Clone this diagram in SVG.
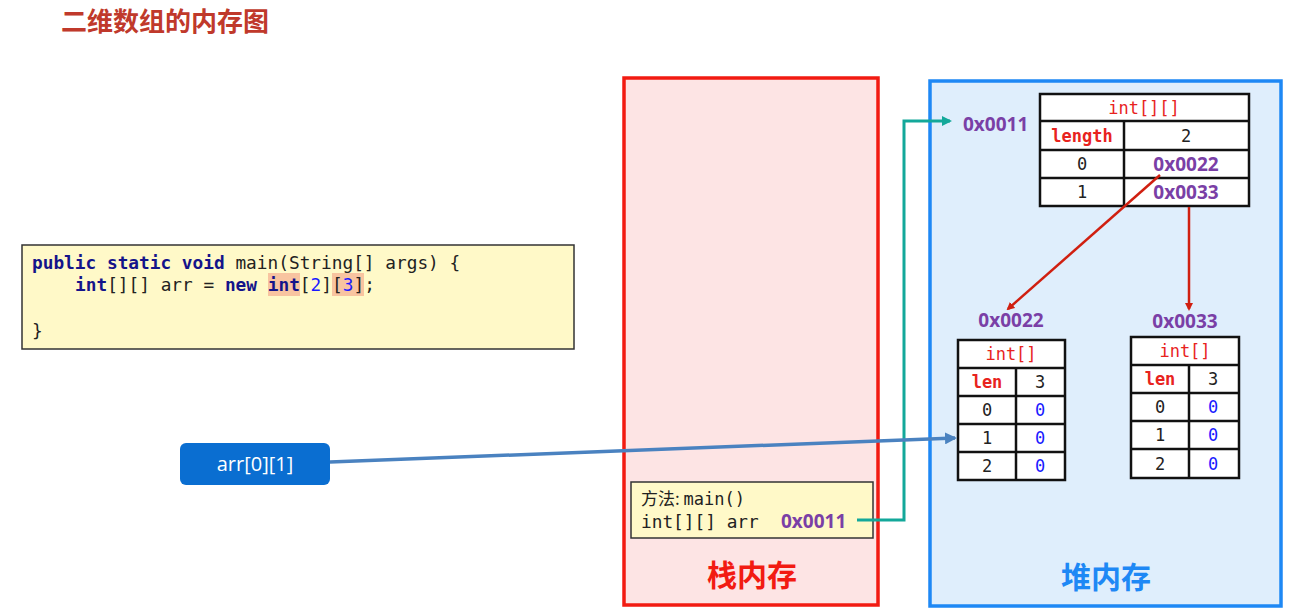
<svg xmlns="http://www.w3.org/2000/svg" width="1292" height="612" viewBox="0 0 1292 612">
<style>
.m{font-family:"DejaVu Sans Mono","Liberation Mono",monospace;font-size:17px;text-anchor:middle}
.r{fill:#e8231e}
.b{fill:#1a1aff}
.k{fill:#222}
.p{font-family:"Open Sans","Liberation Sans",sans-serif;font-weight:bold;font-size:19px;fill:#7a3fa6}
.c{fill:#fff;stroke:#111;stroke-width:2.5}
.code{font-family:"DejaVu Sans Mono","Liberation Mono",monospace;font-size:17.8px;fill:#222}
.kw{fill:#14148a;font-weight:bold}
</style>
<defs>
<marker id="ar" markerWidth="8" markerHeight="8" refX="6" refY="4" orient="auto" markerUnits="userSpaceOnUse"><path d="M0,0L8,4L0,8z" fill="#d01f10"/></marker>
<marker id="at" markerWidth="10" markerHeight="10" refX="8" refY="5" orient="auto" markerUnits="userSpaceOnUse"><path d="M0,0L10,5L0,10z" fill="#13a89a"/></marker>
<marker id="ab" markerWidth="12" markerHeight="12" refX="10" refY="6" orient="auto" markerUnits="userSpaceOnUse"><path d="M0,0L12,6L0,12z" fill="#4a82c0"/></marker>
</defs>
<rect width="1292" height="612" fill="#fff"/>
<text x="61" y="31" font-family="'Noto Sans CJK SC',sans-serif" font-size="26" font-weight="bold" fill="#c0392b">二维数组的内存图</text>

<g id="stack">
<rect x="624" y="78" width="254" height="527" fill="#fde4e4" stroke="#f21b12" stroke-width="3.5"/>
<text x="752" y="586" text-anchor="middle" font-family="'Noto Sans CJK SC',sans-serif" font-size="30" font-weight="bold" fill="#f21b12">栈内存</text>
</g>
<g id="heap">
<rect x="930" y="81" width="351" height="525" fill="#dfeefc" stroke="#1e88f5" stroke-width="3.5"/>
<text x="1106" y="588" text-anchor="middle" font-family="'Noto Sans CJK SC',sans-serif" font-size="30" font-weight="bold" fill="#1e88f5">堆内存</text>
</g>

<g id="code">
<rect x="22" y="245" width="552" height="104" fill="#fff9c8" stroke="#333" stroke-width="1.5"/>
<text x="32" y="269" class="code" xml:space="preserve"><tspan class="kw">public static void</tspan> main(String[] args) {</text>
<rect x="268" y="273" width="32" height="23" fill="#f8c4a0"/>
<rect x="332" y="273" width="32" height="23" fill="#f8c4a0"/>
<text x="75" y="291" class="code" xml:space="preserve"><tspan class="kw">int</tspan>[][] arr = <tspan class="kw">new</tspan> <tspan class="kw">int</tspan>[<tspan fill="#1a1aff">2</tspan>][<tspan fill="#1a1aff">3</tspan>];</text>
<text x="32" y="337" class="code">}</text>
</g>

<g id="method">
<rect x="631" y="482" width="242" height="56" fill="#fff9c8" stroke="#333" stroke-width="1.5"/>
<text x="641" y="505" font-family="'Noto Sans CJK SC','DejaVu Sans Mono',monospace" font-size="17" fill="#222">方法: <tspan font-family="'DejaVu Sans Mono',monospace">main()</tspan></text>
<text x="641" y="528" class="code">int[][] arr</text>
<text x="781" y="528" class="p">0x0011</text>
</g>

<g id="btn">
<rect x="180" y="443" width="150" height="42" rx="6" fill="#0a6ed1"/>
<text x="255" y="471" text-anchor="middle" font-family="'Open Sans','Liberation Sans',sans-serif" font-size="20" fill="#fff">arr[0][1]</text>
</g>

<g id="outer">
<text x="963" y="131" class="p">0x0011</text>
<rect x="1040" y="94" width="209" height="112" class="c"/>
<line x1="1040" y1="121" x2="1249" y2="121" stroke="#111" stroke-width="2.5"/>
<line x1="1040" y1="150" x2="1249" y2="150" stroke="#111" stroke-width="2.5"/>
<line x1="1040" y1="178" x2="1249" y2="178" stroke="#111" stroke-width="2.5"/>
<line x1="1124" y1="121" x2="1124" y2="206" stroke="#111" stroke-width="2.5"/>
<text x="1144" y="114" class="m r">int[][]</text>
<text x="1082" y="142" class="m r" font-weight="bold" font-size="15">length</text>
<text x="1186" y="142" class="m k">2</text>
<text x="1082" y="170" class="m k">0</text>
<text x="1186" y="171" class="p" text-anchor="middle">0x0022</text>
<text x="1082" y="198" class="m k">1</text>
<text x="1186" y="199" class="p" text-anchor="middle">0x0033</text>
</g>

<g id="arr1">
<text x="1011" y="327" class="p" text-anchor="middle">0x0022</text>
<rect x="958" y="340" width="107" height="140" class="c"/>
<line x1="958" y1="368" x2="1065" y2="368" stroke="#111" stroke-width="2.5"/>
<line x1="958" y1="396" x2="1065" y2="396" stroke="#111" stroke-width="2.5"/>
<line x1="958" y1="424" x2="1065" y2="424" stroke="#111" stroke-width="2.5"/>
<line x1="958" y1="452" x2="1065" y2="452" stroke="#111" stroke-width="2.5"/>
<line x1="1016" y1="368" x2="1016" y2="480" stroke="#111" stroke-width="2.5"/>
<text x="1011" y="360" class="m r">int[]</text>
<text x="987" y="388" class="m r" font-weight="bold" font-size="15">len</text>
<text x="1040" y="388" class="m k">3</text>
<text x="987" y="416" class="m k">0</text><text x="1040" y="416" class="m b">0</text>
<text x="987" y="444" class="m k">1</text><text x="1040" y="444" class="m b">0</text>
<text x="987" y="472" class="m k">2</text><text x="1040" y="472" class="m b">0</text>
</g>

<g id="arr2">
<text x="1185" y="328" class="p" text-anchor="middle">0x0033</text>
<rect x="1131" y="337" width="108" height="141" class="c"/>
<line x1="1131" y1="365" x2="1239" y2="365" stroke="#111" stroke-width="2.5"/>
<line x1="1131" y1="393" x2="1239" y2="393" stroke="#111" stroke-width="2.5"/>
<line x1="1131" y1="421" x2="1239" y2="421" stroke="#111" stroke-width="2.5"/>
<line x1="1131" y1="449" x2="1239" y2="449" stroke="#111" stroke-width="2.5"/>
<line x1="1189" y1="365" x2="1189" y2="478" stroke="#111" stroke-width="2.5"/>
<text x="1185" y="357" class="m r">int[]</text>
<text x="1160" y="385" class="m r" font-weight="bold" font-size="15">len</text>
<text x="1213" y="385" class="m k">3</text>
<text x="1160" y="413" class="m k">0</text><text x="1213" y="413" class="m b">0</text>
<text x="1160" y="441" class="m k">1</text><text x="1213" y="441" class="m b">0</text>
<text x="1160" y="470" class="m k">2</text><text x="1213" y="470" class="m b">0</text>
</g>

<g id="connectors" fill="none">
<polyline points="857,520 904,520 904,121 950,121" stroke="#13a89a" stroke-width="3" marker-end="url(#at)"/>
<line x1="330" y1="462" x2="955" y2="438" stroke="#4a82c0" stroke-width="3.5" marker-end="url(#ab)"/>
<line x1="1160" y1="175" x2="1008" y2="309" stroke="#d01f10" stroke-width="2.5" marker-end="url(#ar)"/>
<line x1="1189" y1="207" x2="1189" y2="309" stroke="#d01f10" stroke-width="2.5" marker-end="url(#ar)"/>
</g>
</svg>
